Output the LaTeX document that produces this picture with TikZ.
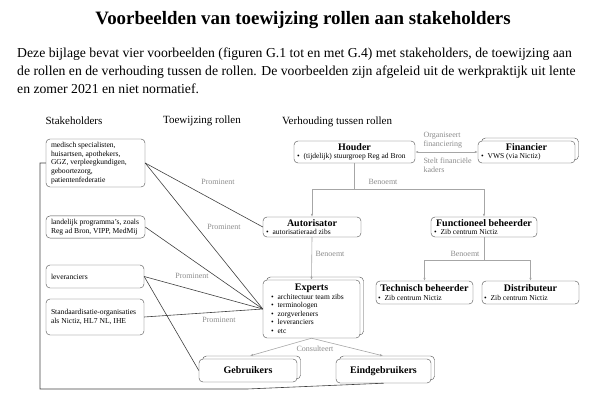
\documentclass[tikz,border=0pt]{standalone}
\usepackage{fontspec}
\setmainfont{Liberation Serif}
\usetikzlibrary{arrows.meta,shadows}
\setlength{\parindent}{0pt}

\newcommand{\rolkop}[1]{\makebox[\linewidth]{\fontsize{10}{11.5}\selectfont\bfseries #1}}
\newcommand{\bul}{\textbullet\hspace{4pt}}

\tikzset{
  kop/.style={font=\fontsize{11}{13}\selectfont},
  stakebox/.style={draw=black!70, rounded corners=4pt, fill=white, align=flush left,
    inner xsep=5pt, font=\fontsize{7.6}{8.6}\selectfont},
  rolbox/.style={draw=black!70, rounded corners=4pt, fill=white, align=flush left,
    inner xsep=3pt, inner ysep=1pt, font=\fontsize{7.5}{8.5}\selectfont},
  stapel/.style={rolbox, copy shadow={shadow xshift=3.5pt, shadow yshift=3pt, draw=black!70, fill=white}},
  link/.style={draw=black!75, line width=0.6pt},
  relatie/.style={draw=black!35, line width=0.6pt, -{Latex[length=3pt,width=2.5pt]}},
  lbl/.style={text=black!45, font=\fontsize{8}{9.5}\selectfont},
}

\begin{document}
\begin{tikzpicture}[x=1pt,y=-1pt]
\useasboundingbox (0,0) rectangle (605,412);

\node[font=\fontsize{18.9}{22}\selectfont\bfseries] (titel) at (303,20)
 {Voorbeelden van toewijzing rollen aan stakeholders};
\node[anchor=north west, align=left, inner sep=0pt, font=\fontsize{13.7}{18}\selectfont] (intro) at (17,48)
 {Deze bijlage bevat vier voorbeelden (figuren G.1 tot en met G.4) met stakeholders, de toewijzing aan\\
  de rollen en de verhouding tussen de rollen. De voorbeelden zijn afgeleid uit de werkpraktijk uit lente\\
  en zomer 2021 en niet normatief.};

\node[kop] (kopstake) at (74,121) {Stakeholders};
\node[kop] (koptoew) at (202,121) {Toewijzing rollen};
\node[kop] (kopverh) at (337,122) {Verhouding tussen rollen};

\node[stakebox, text width=89pt, minimum height=48pt] (s1) at (95.5,163)
 {medisch specialisten,\\ huisartsen, apothekers,\\ GGZ, verpleegkundigen,\\ geboortezorg,\\ patientenfederatie};
\node[stakebox, text width=89pt, minimum height=22pt] (s2) at (95.5,227)
 {landelijk programma's, zoals\\ Reg ad Bron, VIPP, MedMij};
\node[stakebox, text width=88pt, minimum height=23pt] (s3) at (95,276.5) {leveranciers};
\node[stakebox, text width=88pt, minimum height=36pt] (s4) at (95,317)
 {Standaardisatie-organisaties\\ als Nictiz, HL7 NL, IHE};

\node[rolbox, text width=115pt, minimum height=22pt] (houder) at (354.5,152)
 {\rolkop{Houder}\\ \bul (tijdelijk) stuurgroep Reg ad Bron};
\node[stapel, text width=91pt, minimum height=22pt] (financier) at (526.5,152)
 {\rolkop{Financier}\\ \bul VWS (via Nictiz)};
\node[rolbox, text width=92pt, minimum height=20pt] (autor) at (312,227)
 {\rolkop{Autorisator}\\ \bul autorisatieraad zibs};
\node[rolbox, text width=100pt, minimum height=20pt] (functioneel) at (484,227)
 {\rolkop{Functioneel beheerder}\\ \bul Zib centrum Nictiz};
\node[rolbox, text width=93pt, inner xsep=2pt, minimum height=23pt] (technisch) at (424.5,292.5)
 {\rolkop{Technisch beheerder}\\ \bul Zib centrum Nictiz};
\node[rolbox, text width=93pt, inner xsep=2pt, minimum height=23pt] (distr) at (530.5,292.5)
 {\rolkop{Distributeur}\\ \bul Zib centrum Nictiz};
\node[stapel, text width=81pt, inner xsep=8pt, minimum height=58pt] (experts) at (311.5,309)
 {\rolkop{Experts}\\ \bul architectuur team zibs\\ \bul terminologen\\ \bul zorgverleners\\ \bul leveranciers\\ \bul etc};
\node[stapel, text width=92pt, minimum height=23pt] (gebr) at (248,370.5) {\rolkop{Gebruikers}};
\node[stapel, text width=89pt, minimum height=24pt] (eindgebr) at (383.5,371) {\rolkop{Eindgebruikers}};

\draw[relatie, {Latex[length=3pt,width=2.5pt]}-{Latex[length=3pt,width=2.5pt]}] (houder) -- (financier);
\node[lbl, anchor=west, align=left] (organiseert) at (420,140) {Organiseert\\ financiering};
\node[lbl, anchor=west, align=left] (kaders) at (420,165) {Stelt financiële\\ kaders};

\draw[relatie] (houder.south) -- ++(0,26) -| (autor.north);
\draw[relatie] (houder.south) -- ++(0,26) -| (functioneel.north);
\node[lbl] (benoemt1) at (383,182) {Benoemt};
\draw[relatie] (autor.south) -- (experts.north);
\node[lbl] (benoemt2) at (330,254) {Benoemt};
\draw[relatie] (functioneel.south) -- ++(0,23) -| (technisch.north);
\draw[relatie] (functioneel.south) -- ++(0,23) -| (distr.north);
\node[lbl] (benoemt3) at (465,254) {Benoemt};

\draw[relatie] (experts.south) -- ([xshift=2pt,yshift=3pt]gebr.north);
\draw[relatie] (experts.south) -- ([xshift=-0.5pt,yshift=3pt]eindgebr.north);
\node[lbl] (consulteert) at (315,349) {Consulteert};

\draw[link] (s1.east) -- (autor.west);
\draw[link] (s1.east) -- (experts.west);
\draw[link] (s2.east) -- (experts.west);
\draw[link] (s3.east) -- (experts.west);
\draw[link] (s3.east) -- (gebr.west);
\draw[link] (s4.east) -- (experts.west);
\node[lbl] (prom1) at (218,182) {Prominent};
\node[lbl] (prom2) at (224,227) {Prominent};
\node[lbl] (prom3) at (192,276) {Prominent};
\node[lbl] (prom4) at (219,320) {Prominent};

\coordinate (hoek) at (40,389);
\coordinate (knik) at (247,389);
\draw[link] (s1.west) -| (hoek) -- (knik) -- (eindgebr.south);
\end{tikzpicture}
\end{document}
